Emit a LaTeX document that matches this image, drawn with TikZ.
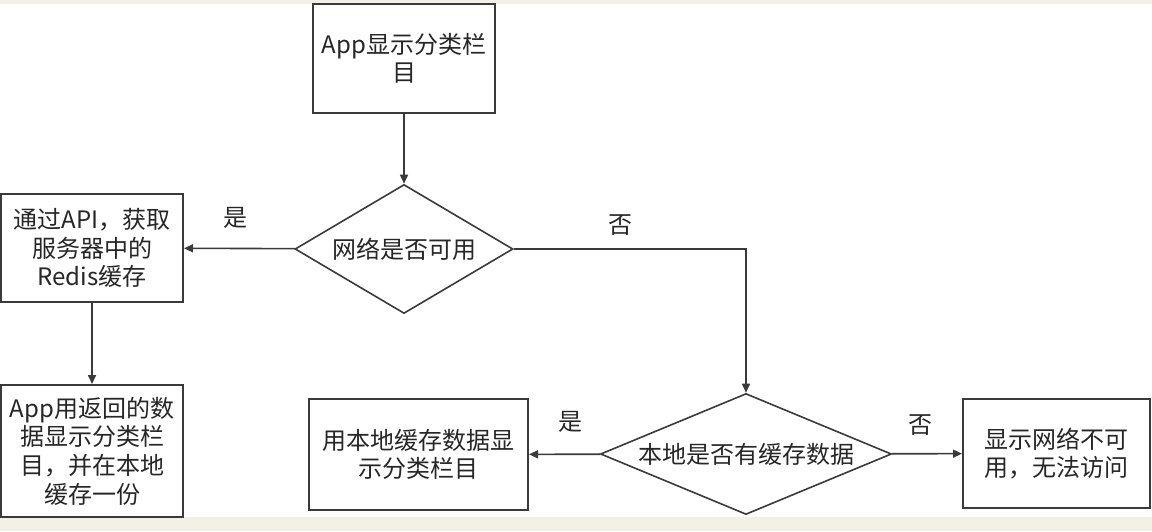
\documentclass[tikz,border=0pt]{standalone}
\usepackage{fontspec}
\setmainfont{Noto Sans CJK SC}
\usetikzlibrary{arrows.meta, shapes.geometric}
\definecolor{pagebg}{HTML}{F3F1E6}
\definecolor{inkline}{HTML}{3A3A3A}
\definecolor{inktext}{HTML}{262626}

\begin{document}
\begin{tikzpicture}[x=0.5pt, y=-0.5pt,
    every node/.style={text=inktext, font=\fontsize{12}{14.3}\selectfont},
    procbox/.style={draw=inkline, line width=1pt, fill=white, align=center, inner sep=0pt},
    decide/.style={draw=inkline, line width=0.8pt, diamond, fill=white, inner sep=0pt},
    flow/.style={draw=inkline, line width=0.8pt, -{Triangle[length=4.5pt, width=4pt]}}]
  \useasboundingbox (0,0) rectangle (1152,531);
  \fill[pagebg] (0,0) rectangle (1152,531);
  \fill[white] (0,4) rectangle (1152,517);
  % boxes and decisions
  \node[procbox, minimum width=91pt, minimum height=54.5pt] (app) at (404,58.5) {App显示分类栏\\目};
  \node[decide, aspect=1.69, minimum width=109pt, minimum height=64.5pt] (net) at (404,249) {网络是否可用};
  \node[procbox, minimum width=91pt, minimum height=54pt] (api) at (92,248) {通过API，获取\\服务器中的\\Redis缓存};
  \node[procbox, minimum width=91pt, minimum height=66pt] (show) at (92,451) {App用返回的数\\据显示分类栏\\目，并在本地\\缓存一份};
  \node[decide, aspect=2.4, minimum width=145.5pt, minimum height=60.5pt] (local) at (746,454) {本地是否有缓存数据};
  \node[procbox, minimum width=109.5pt, minimum height=55.5pt] (cache) at (418.5,454.5) {用本地缓存数据显\\示分类栏目};
  \node[procbox, minimum width=93.5pt, minimum height=54.5pt] (fail) at (1056.5,453.5) {显示网络不可\\用，无法访问};
  % connectors
  \draw[flow] (app) -- (net);
  \draw[flow] (net) -- (api);
  \draw[flow] (net.east) -| (local.north);
  \draw[flow] (api) -- (show);
  \draw[flow] (local) -- (cache);
  \draw[flow] (local) -- (fail);
  % branch labels
  \node (netyes) at (235,218) {是};
  \node (netno) at (620,225) {否};
  \node (localyes) at (570,422) {是};
  \node (localno) at (920,425) {否};
\end{tikzpicture}
\end{document}
